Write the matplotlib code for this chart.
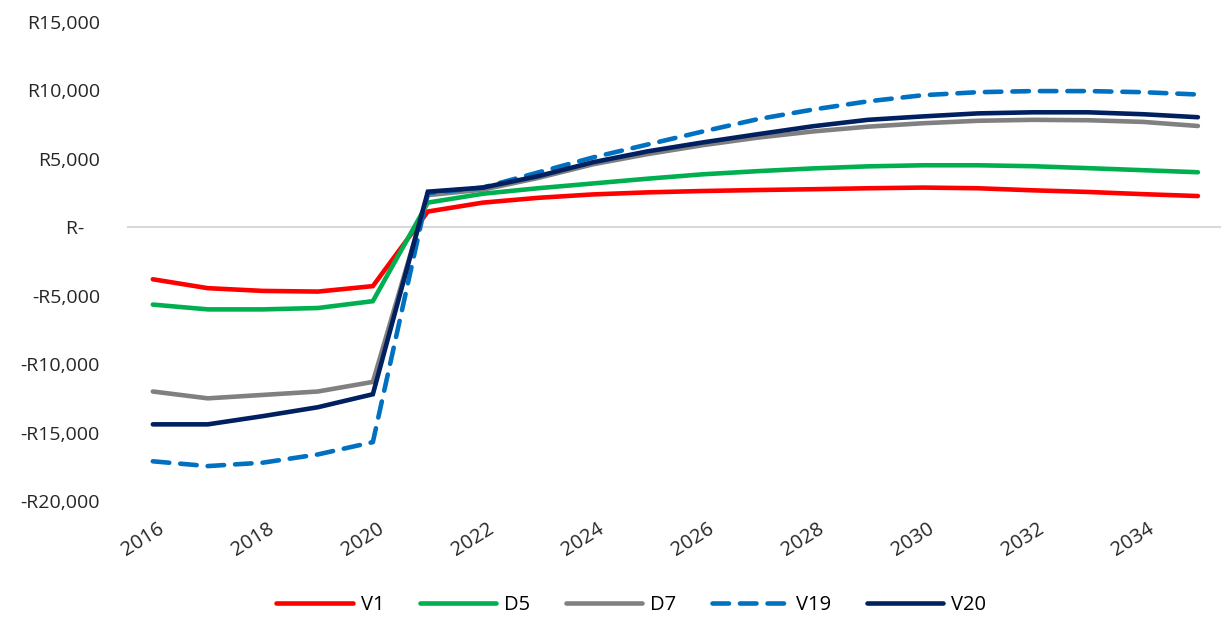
import numpy as np
import matplotlib.pyplot as plt
import matplotlib.transforms as mtransforms

years = np.arange(2016, 2036)

v1 = [-3800, -4450, -4650, -4700, -4300, 1150, 1800, 2150, 2400, 2550,
      2650, 2720, 2780, 2850, 2900, 2850, 2700, 2580, 2420, 2280]
d5 = [-5650, -6000, -6000, -5900, -5400, 1800, 2450, 2850, 3200, 3550,
      3870, 4100, 4300, 4450, 4530, 4530, 4460, 4320, 4170, 4020]
d7 = [-12000, -12500, -12250, -12000, -11300, 2350, 2750, 3600, 4600, 5350,
      6000, 6550, 7000, 7350, 7600, 7780, 7850, 7820, 7700, 7400]
v19 = [-17100, -17450, -17200, -16600, -15700, 2500, 2900, 4000, 5100, 6050,
       7000, 7900, 8600, 9200, 9650, 9870, 9950, 9950, 9870, 9700]
v20 = [-14400, -14400, -13800, -13150, -12200, 2600, 2900, 3730, 4750, 5550,
       6200, 6800, 7380, 7850, 8100, 8320, 8400, 8400, 8260, 8040]

series = [
    ('V1', v1, '#FF0000', '-'),
    ('D5', d5, '#00B050', '-'),
    ('D7', d7, '#808080', '-'),
    ('V19', v19, '#0070C0', '--'),
    ('V20', v20, '#002060', '-'),
]

y_ticks = [15000, 10000, 5000, 0, -5000, -10000, -15000, -20000]
y_labels = ['R15,000', 'R10,000', 'R5,000', 'R-   ', '-R5,000', '-R10,000', '-R15,000', '-R20,000']

plt.rcParams['font.family'] = ['Open Sans', 'DejaVu Sans']

fig = plt.figure(figsize=(12.21, 6.26), dpi=100)
ax = fig.add_axes([0.104, 0.1997, 0.896, 0.7652])

ax.axhline(0, color='#D9D9D9', linewidth=1.5, zorder=1)

for name, vals, color, ls in series:
    line, = ax.plot(years, vals, color=color, linewidth=3.3, label=name,
                    solid_capstyle='round', solid_joinstyle='miter', zorder=3)
    if ls == '--':
        line.set_dashes([3.6, 2.4])
        line.set_dash_capstyle('round')

ax.set_xlim(2015.53, 2035.42)
ax.set_ylim(-20000, 15000)
ax.set_yticks(y_ticks)
ax.set_yticklabels(y_labels, fontsize=14, color='#262626')
ax.set_xticks(years[::2])
ax.set_xticklabels([str(y) for y in years[::2]], fontsize=14.5, color='#262626',
                   rotation=32, ha='right', rotation_mode='anchor')
ax.tick_params(axis='both', length=0)
ax.tick_params(axis='y', pad=19.5)
ax.tick_params(axis='x', pad=13)
shift = mtransforms.ScaledTranslation(4 / 100, 0, fig.dpi_scale_trans)
for lab in ax.get_xticklabels():
    lab.set_transform(lab.get_transform() + shift)
for s in ax.spines.values():
    s.set_visible(False)

fig.legend(loc='center', bbox_to_anchor=(0.517, 0.034), ncol=5, frameon=False,
           fontsize=14.5, handlelength=3.8, columnspacing=1.75, handletextpad=0.4)

fig.savefig('out.png', dpi=100)
